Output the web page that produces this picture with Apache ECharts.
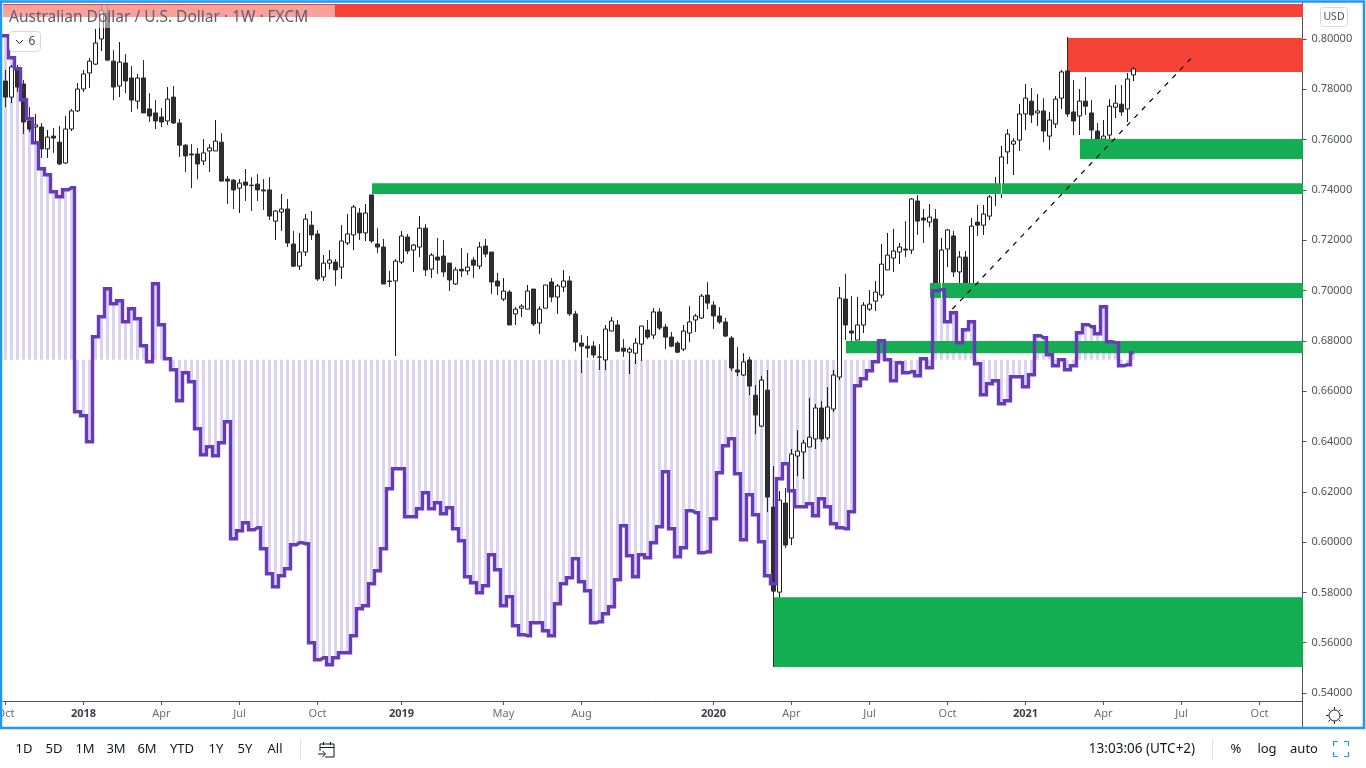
<!DOCTYPE html>
<html>
<head>
<meta charset="utf-8">
<title>AUD/USD 1W</title>
<script src="https://cdn.jsdelivr.net/npm/echarts@6/dist/echarts.min.js"></script>
<style>
  html, body { margin: 0; padding: 0; background: #fff; }
  #chart { width: 1366px; height: 768px; }
</style>
</head>
<body>
<div id="chart"></div>
<script>
// weekly candles (first candle is the Oct 2017 week)
const opens = [
  .7833,.7769,.7881,.7821,.7674,.7650,.7650,.7563,.7614,.7590,.7507,.7642,.7714,.7801,.7865,.7900,.8000,.8103,.7912,.7813,
  .7905,.7845,.7753,.7845,.7722,.7706,.7690,.7674,.7769,.7666,.7578,.7543,.7543,.7515,.7555,.7555,.7590,.7443,.7439,.7407,
  .7431,.7419,.7423,.7400,.7400,.7276,.7312,.7324,.7185,.7097,.7153,.7260,.7225,.7054,.7109,.7113,.7093,.7189,.7221,.7308,
  .7229,.7380,.7185,.7173,.7038,.7038,.7113,.7213,.7161,.7173,.7248,.7085,.7133,.7137,.7109,.7026,.7085,.7078,.7121,.7097,
  .7177,.7153,.7038,.6966,.6994,.6907,.6930,.6926,.7006,.6871,.6930,.7034,.6974,.7014,.7038,.6907,.6791,.6779,.6779,.6736,
  .6724,.6839,.6863,.6771,.6755,.6751,.6787,.6843,.6823,.6915,.6855,.6815,.6791,.6767,.6831,.6883,.6891,.6982,.6942,.6899,
  .6875,.6811,.6684,.6664,.6724,.6584,.6461,.6604,.6139,.5801,.6155,.6016,.6342,.6358,.6378,.6410,.6533,.6414,.6529,.6656,
  .6966,.6839,.6803,.6863,.6926,.6958,.6982,.7082,.7129,.7153,.7165,.7161,.7356,.7288,.7272,.7284,.7026,.7165,.7217,.7074,
  .7133,.7022,.7272,.7260,.7296,.7388,.7400,.7551,.7582,.7598,.7702,.7753,.7706,.7714,.7614,.7662,.7765,.7873,.7710,.7694,
  .7753,.7706,.7634,.7602,.7618,.7729,.7741,.7722,.7857
];
const closes = [
  .7769,.7889,.7809,.7670,.7642,.7658,.7563,.7610,.7606,.7503,.7642,.7714,.7801,.7861,.7912,.7984,.8111,.7916,.7809,.7908,
  .7833,.7757,.7845,.7706,.7694,.7674,.7670,.7761,.7666,.7578,.7535,.7539,.7503,.7547,.7567,.7594,.7435,.7435,.7400,.7427,
  .7419,.7417,.7400,.7396,.7296,.7316,.7324,.7189,.7097,.7153,.7284,.7221,.7046,.7109,.7121,.7082,.7197,.7225,.7332,.7229,
  .7308,.7197,.7173,.7026,.7036,.7117,.7217,.7157,.7181,.7248,.7082,.7141,.7121,.7074,.7042,.7082,.7078,.7093,.7101,.7173,
  .7145,.7034,.7018,.6998,.6863,.6926,.6938,.6998,.6867,.6926,.7022,.6974,.7018,.7038,.6907,.6795,.6779,.6771,.6744,.6735,
  .6847,.6879,.6759,.6759,.6767,.6791,.6859,.6815,.6915,.6851,.6815,.6779,.6755,.6839,.6875,.6899,.6978,.6950,.6899,.6875,
  .6819,.6692,.6676,.6716,.6620,.6505,.6644,.6179,.5805,.6167,.5988,.6350,.6362,.6394,.6417,.6533,.6410,.6537,.6664,.6970,
  .6863,.6831,.6863,.6942,.6946,.6994,.7105,.7141,.7157,.7173,.7161,.7364,.7276,.7280,.7292,.7022,.7161,.7241,.7074,.7133,
  .7022,.7256,.7260,.7304,.7372,.7419,.7531,.7622,.7594,.7702,.7765,.7698,.7714,.7634,.7678,.7761,.7869,.7702,.7674,.7753,
  .7733,.7638,.7602,.7614,.7733,.7745,.7710,.7841,.7881
];
const lows = [
  .7729,.7745,.7789,.7622,.7630,.7586,.7527,.7527,.7547,.7499,.7503,.7634,.7710,.7789,.7805,.7897,.7952,.7912,.7757,.7769,
  .7785,.7710,.7722,.7706,.7670,.7642,.7650,.7658,.7662,.7531,.7471,.7407,.7443,.7499,.7471,.7555,.7435,.7344,.7324,.7308,
  .7356,.7316,.7356,.7320,.7280,.7201,.7237,.7173,.7093,.7082,.7137,.7201,.7038,.7038,.7085,.7018,.7046,.7181,.7161,.7201,
  .7197,.7189,.7149,.7026,.7014,.6740,.7105,.7145,.7074,.7133,.7058,.7050,.7066,.7054,.6998,.7022,.7054,.7062,.7050,.7085,
  .7133,.6986,.6982,.6958,.6863,.6863,.6895,.6926,.6859,.6827,.6930,.6954,.6907,.6994,.6899,.6759,.6672,.6732,.6732,.6684,
  .6684,.6839,.6755,.6736,.6668,.6708,.6720,.6807,.6807,.6843,.6767,.6775,.6751,.6759,.6795,.6835,.6887,.6926,.6847,.6867,
  .6815,.6680,.6660,.6660,.6584,.6429,.6457,.6119,.5503,.5698,.5976,.5988,.6262,.6251,.6378,.6370,.6398,.6406,.6517,.6644,
  .6803,.6795,.6803,.6831,.6919,.6919,.6970,.7082,.7074,.7105,.7133,.7145,.7221,.7189,.7252,.7002,.7022,.7093,.7054,.7018,
  .6998,.6986,.7217,.7221,.7280,.7336,.7368,.7503,.7459,.7555,.7638,.7666,.7654,.7590,.7559,.7646,.7722,.7690,.7618,.7618,
  .7698,.7559,.7531,.7586,.7582,.7686,.7694,.7670,.7833
];
const highs = [
  .7877,.7897,.7897,.7837,.7729,.7702,.7666,.7638,.7646,.7654,.7694,.7722,.7825,.7877,.7924,.8040,.8135,.8135,.7956,.7988,
  .7940,.7893,.7861,.7916,.7785,.7757,.7726,.7809,.7813,.7682,.7582,.7582,.7567,.7602,.7582,.7678,.7626,.7455,.7443,.7443,
  .7483,.7451,.7463,.7443,.7451,.7320,.7384,.7364,.7237,.7229,.7304,.7316,.7241,.7141,.7161,.7125,.7260,.7304,.7340,.7328,
  .7344,.7380,.7248,.7205,.7078,.7125,.7237,.7225,.7185,.7296,.7264,.7149,.7209,.7201,.7109,.7093,.7169,.7149,.7133,.7193,
  .7205,.7153,.7070,.7050,.7002,.6934,.6946,.7022,.7006,.6938,.7022,.7050,.7026,.7082,.7058,.6919,.6823,.6819,.6799,.6787,
  .6863,.6895,.6883,.6807,.6775,.6811,.6859,.6883,.6930,.6930,.6867,.6835,.6799,.6863,.6938,.6907,.6986,.7034,.6958,.6934,
  .6891,.6819,.6775,.6751,.6736,.6624,.6660,.6684,.6302,.6203,.6215,.6370,.6445,.6406,.6573,.6549,.6561,.6616,.6684,.7014,
  .7066,.6978,.6974,.6954,.7002,.7038,.7185,.7229,.7245,.7189,.7276,.7368,.7380,.7324,.7344,.7324,.7209,.7245,.7237,.7157,
  .7157,.7288,.7340,.7340,.7380,.7451,.7575,.7642,.7606,.7741,.7821,.7805,.7781,.7765,.7710,.7773,.7877,.8008,.7837,.7801,
  .7849,.7757,.7666,.7678,.7761,.7817,.7817,.7865,.7889
];

// purple oscillator, its own unlabelled scale around zero. first value is the week before the first candle
const indicator = [
  324,
  324,302,291,260,241,217,191,185,168,163,170,172,-52,-56,-82,23,43,71,56,59,
  38,51,41,14,-2,76,35,1,-10,-41,-13,-22,-69,-95,-87,-96,-83,-62,-179,-171,
  -163,-170,-168,-189,-214,-227,-216,-209,-185,-183,-184,-283,-300,-298,-305,-298,-293,-293,-276,-249,
  -246,-224,-211,-189,-129,-109,-109,-157,-157,-149,-133,-149,-143,-154,-148,-169,-181,-217,-223,-233,
  -226,-195,-210,-246,-237,-266,-275,-276,-263,-263,-271,-276,-244,-224,-218,-199,-222,-231,-263,-262,
  -254,-247,-220,-166,-196,-217,-195,-198,-183,-167,-112,-169,-197,-188,-151,-153,-193,-192,-159,-113,
  -86,-79,-114,-180,-135,-155,-182,-216,-224,-119,-104,-131,-147,-147,-144,-156,-139,-147,-164,-168,
  -169,-152,-26,-19,-11,-2,19,0,-21,-3,-13,-12,-16,1,-8,69,70,38,47,17,
  30,38,-4,-35,-24,-21,-44,-41,-17,-17,-27,-15,24,22,5,-6,0,-10,-6,27,
  35,33,26,53,18,17,-6,-5,7
];

// red boxes sit under the candles: first week, last week, top price, bottom price
const redStart  = [-1, 177.08];
const redEnd    = [217, 217];
const redTop    = [.8139, .8004];
const redBottom = [.8087, .7869];

// green boxes sit over the candles
const greenStart  = [61.08, 179.08, 154.08, 140.08, 128.08];
const greenEnd    = [217, 217, 217, 217, 217];
const greenTop    = [.7427, .7602, .7030, .6799, .5781];
const greenBottom = [.7384, .7523, .6970, .6751, .5503];

// thin white slits where a candle crosses a green box
const slitWeek   = [156, 166];
const slitTop    = [.7030, .7427];
const slitBottom = [.6970, .7384];

// trend line under the 2020-2021 rally
const trendWeeks  = [157.8, 197.8];
const trendPrices = [.6926, .7928];

const timeTicks  = [0, 13, 26, 39, 52, 66, 83, 96, 118, 131, 144, 157, 170, 183, 196, 209];
const timeLabels = ['Oct', '2018', 'Apr', 'Jul', 'Oct', '2019', 'May', 'Aug', '2020', 'Apr', 'Jul', 'Oct', '2021', 'Apr', 'Jul', 'Oct'];
const priceTicks = [.54, .56, .58, .60, .62, .64, .66, .68, .70, .72, .74, .76, .78, .80];

const rangeButtons = ['1D', '5D', '1M', '3M', '6M', 'YTD', '1Y', '5Y', 'All'];
const rangeButtonX = [24, 54, 85, 116, 147, 182, 216, 245, 275];

const FONT = '"Noto Sans", sans-serif';
const AXIS_COLOR = '#50535E';
const BORDER = '#D6D8E0';
const INK = '#131722';

const candleData = opens.map((o, i) => [i, o, closes[i], lows[i], highs[i]]);
const indicatorData = indicator.map((v, i) => [i - 1, v]);
const redData = redStart.map((s, i) => [s, redEnd[i], redTop[i], redBottom[i]]);
const greenData = greenStart.map((s, i) => [s, greenEnd[i], greenTop[i], greenBottom[i]]);
const slitData = slitWeek.map((w, i) => [w, slitTop[i], slitBottom[i]]);

function renderStripe(params, api) {
  const zero = api.coord([api.value(0), 0]);
  const end = api.coord([api.value(0), api.value(1)]);
  return {
    type: 'rect',
    shape: { x: zero[0] - 1.5, y: zero[1], width: 3, height: end[1] - zero[1] },
    style: { fill: '#DCD3EF' }
  };
}

function zoneRenderer(fill) {
  return function(params, api) {
    const a = api.coord([api.value(0), api.value(2)]);
    const b = api.coord([api.value(1), api.value(3)]);
    return {
      type: 'rect',
      shape: { x: a[0], y: a[1], width: b[0] - a[0], height: b[1] - a[1] },
      style: { fill }
    };
  };
}

function renderSlit(params, api) {
  const a = api.coord([api.value(0), api.value(1)]);
  const b = api.coord([api.value(0), api.value(2)]);
  return {
    type: 'rect',
    shape: { x: a[0] - 0.5, y: a[1], width: 1, height: b[1] - a[1] },
    style: { fill: '#fff' }
  };
}

function label(text, x, y, extra) {
  return {
    type: 'text', z: 100, x, y,
    style: Object.assign({ text, font: '13px ' + FONT, fill: INK, align: 'center', verticalAlign: 'middle' }, extra)
  };
}

function stroke(points, color, width) {
  return {
    type: 'polyline', z: 100,
    shape: { points },
    style: { stroke: color || INK, lineWidth: width || 1, fill: 'none' }
  };
}

const sunCenter = [1334.5, 715.5];
const sunRays = [0, 1, 2, 3, 4, 5, 6, 7].map(i => {
  const a = i * Math.PI / 4;
  return stroke([
    [sunCenter[0] + Math.cos(a) * 6, sunCenter[1] + Math.sin(a) * 6],
    [sunCenter[0] + Math.cos(a) * 8.5, sunCenter[1] + Math.sin(a) * 8.5]
  ], INK, 1);
});

const graphics = [
  // legend strip behind the title
  { type: 'rect', z: 99, shape: { x: 3, y: 5, width: 332, height: 23 }, style: { fill: 'rgba(255,255,255,0.5)' } },
  label('Australian Dollar / U.S. Dollar · 1W · FXCM', 9, 18, { align: 'left', font: '15.5px ' + FONT, fill: '#5D606B' }),
  // collapsed indicators pill
  { type: 'rect', z: 100, shape: { x: 9.5, y: 31.5, width: 31, height: 20, r: 3 }, style: { fill: '#fff', stroke: BORDER, lineWidth: 1 } },
  stroke([[16, 40], [19.5, 43.5], [23, 40]], INK, 1),
  label('6', 32, 41.5, { font: '12px ' + FONT, fill: '#4A4D57' }),
  // currency button
  { type: 'rect', z: 100, shape: { x: 1320.5, y: 7.5, width: 27, height: 19, r: 3 }, style: { fill: '#fff', stroke: BORDER, lineWidth: 1 } },
  label('USD', 1334, 17.5, { font: '10.5px ' + FONT, fill: '#4A4D57' }),
  // axis corner
  stroke([[1302.5, 701], [1302.5, 727]], AXIS_COLOR, 1),
  { type: 'circle', z: 100, shape: { cx: sunCenter[0], cy: sunCenter[1], r: 5.5 }, style: { fill: '#fff', stroke: INK, lineWidth: 1 } }
].concat(sunRays, [
  // blue window frame
  { type: 'rect', z: 101, shape: { x: 1, y: 1.5, width: 1363, height: 726.5 }, style: { fill: 'none', stroke: '#2196F3', lineWidth: 2.5 } },
  // bottom toolbar
  stroke([[300.5, 738], [300.5, 760]], '#E0E3EB', 1),
  stroke([[1212.5, 738], [1212.5, 760]], '#E0E3EB', 1),
  stroke([[320, 751], [320, 744], [334, 744], [334, 757], [325, 757]], INK, 1),
  stroke([[320, 747.5], [334, 747.5]], INK, 1),
  stroke([[323.5, 742], [323.5, 745]], INK, 1),
  stroke([[330.5, 742], [330.5, 745]], INK, 1),
  stroke([[318, 754], [325, 754]], INK, 1),
  stroke([[322.5, 751], [325.5, 754], [322.5, 757]], INK, 1),
  label('13:03:06 (UTC+2)', 1142, 749.5, { font: '13.5px ' + FONT }),
  label('%', 1236, 749.5),
  label('log', 1267, 749.5),
  label('auto', 1304, 749.5),
  stroke([[1333.5, 746], [1333.5, 741.5], [1338, 741.5]], '#2196F3', 1.2),
  stroke([[1344, 741.5], [1348.5, 741.5], [1348.5, 746]], '#2196F3', 1.2),
  stroke([[1333.5, 752], [1333.5, 756.5], [1338, 756.5]], '#2196F3', 1.2),
  stroke([[1344, 756.5], [1348.5, 756.5], [1348.5, 752]], '#2196F3', 1.2)
], rangeButtons.map((t, i) => label(t, rangeButtonX[i], 749.5)));

const chart = echarts.init(document.getElementById('chart'), null, { renderer: 'canvas' });

chart.setOption({
  animation: false,
  backgroundColor: '#fff',
  textStyle: { fontFamily: FONT },
  // outerBoundsMode none: the clipped Oct label at the left edge must not push the grid in
  grid: { left: 3, top: 3, width: 1299.5, height: 698, containLabel: false, outerBoundsMode: 'none' },
  xAxis: {
    type: 'value',
    // one unit is one week, 6 px wide
    min: -0.41667,
    max: 216.17,
    containShape: false,
    splitLine: { show: false },
    axisLine: { onZero: false, lineStyle: { color: AXIS_COLOR } },
    axisTick: { length: 4, customValues: timeTicks, lineStyle: { color: AXIS_COLOR } },
    axisLabel: {
      customValues: timeTicks,
      margin: 7,
      fontSize: 11,
      color: '#6A6D78',
      fontFamily: FONT,
      formatter: v => {
        const t = timeLabels[timeTicks.indexOf(v)];
        return /^\d/.test(t) ? '{year|' + t + '}' : t;
      },
      rich: { year: { fontSize: 11, fontWeight: 'bold', color: '#3C3F4A', fontFamily: FONT } }
    }
  },
  yAxis: [
    {
      type: 'value',
      position: 'right',
      min: 0.53682,
      max: 0.81431,
      splitLine: { show: false },
      axisLine: { show: true, onZero: false, lineStyle: { color: AXIS_COLOR } },
      axisTick: { show: true, length: 4, customValues: priceTicks, lineStyle: { color: AXIS_COLOR } },
      axisLabel: {
        customValues: priceTicks,
        margin: 9,
        fontSize: 11,
        color: '#50535E',
        fontFamily: FONT,
        formatter: v => v.toFixed(5)
      }
    },
    {
      // indicator scale, not shown in the original
      type: 'value',
      show: false,
      min: -341.3,
      max: 356.7
    }
  ],
  series: [
    {
      type: 'custom',
      yAxisIndex: 1,
      data: indicatorData,
      encode: { x: 0, y: 1 },
      renderItem: renderStripe,
      clip: true,
      z: 1
    },
    {
      type: 'custom',
      data: redData,
      encode: { x: [0, 1], y: [2, 3] },
      renderItem: zoneRenderer('#F44336'),
      clip: true,
      z: 2
    },
    {
      type: 'candlestick',
      data: candleData,
      barWidth: 4,
      itemStyle: { color: '#fff', color0: '#2E2E2E', borderColor: '#1C1C1C', borderColor0: '#2A2A2A', borderWidth: 1 },
      z: 3
    },
    {
      type: 'custom',
      data: greenData,
      encode: { x: [0, 1], y: [2, 3] },
      renderItem: zoneRenderer('#14AE52'),
      clip: true,
      z: 4
    },
    {
      type: 'custom',
      data: slitData,
      encode: { x: 0, y: [1, 2] },
      renderItem: renderSlit,
      clip: true,
      z: 5
    },
    {
      type: 'line',
      yAxisIndex: 1,
      data: indicatorData,
      step: 'middle',
      showSymbol: false,
      lineStyle: { color: '#673AB7', width: 3.4, join: 'miter' },
      z: 6
    },
    {
      type: 'line',
      data: trendWeeks.map((w, i) => [w, trendPrices[i]]),
      showSymbol: false,
      lineStyle: { color: '#000', width: 1.2, type: [5, 6] },
      z: 7
    }
  ],
  graphic: { elements: graphics }
});
</script>
</body>
</html>
